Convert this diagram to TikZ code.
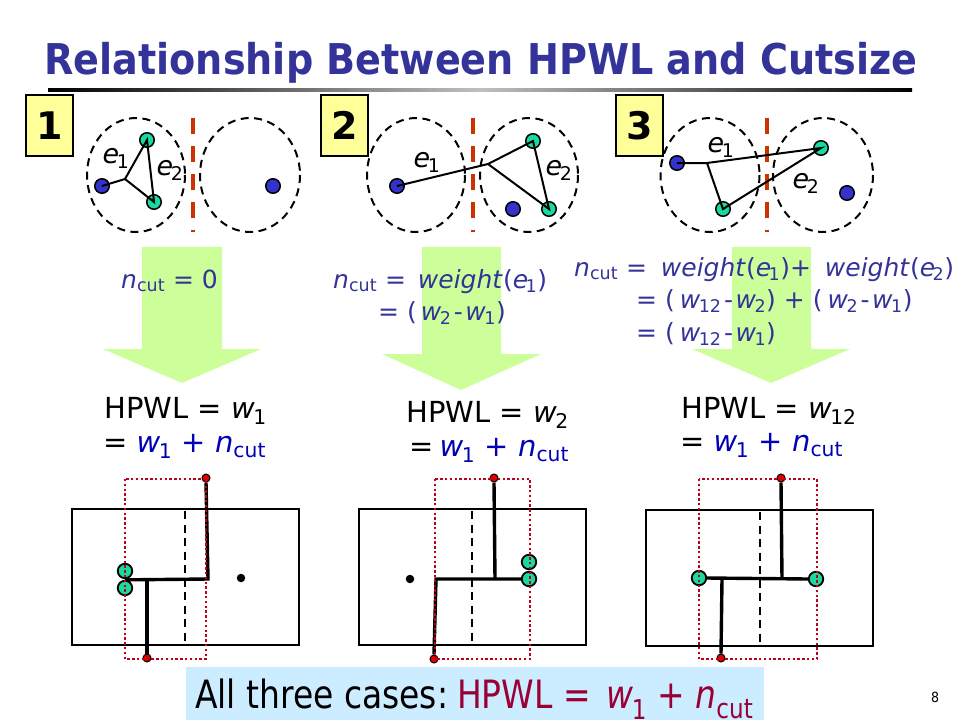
\documentclass[tikz,border=0pt]{standalone}
\usepackage{fontspec}
\setmainfont{DejaVu Sans}
\newfontfamily\narrowfont{DejaVu Sans}[FakeStretch=0.9]
\newfontfamily\bannerfont{DejaVu Sans}[FakeStretch=0.845]
\usetikzlibrary{positioning}
\definecolor{titleblue}{HTML}{333399}
\definecolor{formblue}{HTML}{0000B4}
\definecolor{cutred}{HTML}{CC3300}
\definecolor{boxred}{HTML}{C00018}
\definecolor{wine}{HTML}{990033}
\definecolor{arrowgreen}{HTML}{CCFF99}
\definecolor{tealdot}{HTML}{19D8A0}
\definecolor{bluedot}{HTML}{3333CC}
\definecolor{paleyellow}{HTML}{FFFF99}
\definecolor{paleblue}{HTML}{CCECFF}
\newcommand{\ncut}{\textit{n}\textsubscript{cut}}
\newcommand{\wsub}[1]{\textit{w}\kern-1.5pt\textsubscript{#1}}
\newcommand{\esub}[1]{\textit{e}\kern-2.5pt\textsubscript{#1}}
\newcommand{\hy}{\kern2.5pt-\kern2.5pt}
\tikzstyle{numbox} = [rectangle, draw, line width=1.2pt, fill=paleyellow, minimum width=47pt, minimum height=61pt, inner sep=0pt, font=\fontsize{38}{38}\selectfont\bfseries]
\tikzstyle{region} = [draw, line width=2pt, dash pattern=on 8pt off 5.5pt]
\tikzstyle{cutline} = [draw=cutred, line width=4.5pt, dash pattern=on 15.5pt off 12.5pt]
\tikzstyle{cutdash} = [draw, line width=2.2pt, dash pattern=on 8pt off 5.5pt]
\tikzstyle{pinblue} = [circle, draw, line width=1.5pt, fill=bluedot, minimum size=14.5pt, inner sep=0pt]
\tikzstyle{pingreen} = [circle, draw, line width=1.5pt, fill=tealdot, minimum size=14.5pt, inner sep=0pt]
\tikzstyle{cellgreen} = [circle, draw, line width=1.8pt, fill=tealdot, minimum size=14.5pt, inner sep=0pt]
\tikzstyle{ioblob} = [circle, draw, line width=1pt, fill=red!90!black, minimum size=8pt, inner sep=0pt]
\tikzstyle{cell} = [circle, fill=black, minimum size=8.5pt, inner sep=0pt]
\tikzstyle{edge} = [line width=2pt]
\tikzstyle{wire} = [line width=3.4pt]
\tikzstyle{chip} = [draw, line width=2.5pt]
\tikzstyle{bbox} = [draw=boxred, line width=2.4pt, dash pattern=on 2.4pt off 2.4pt]
\tikzstyle{bigarrow} = [fill=arrowgreen]
\tikzstyle{elabel} = [inner sep=0pt, anchor=base, font=\fontsize{27}{27}\selectfont]
\tikzstyle{ntext} = [inner sep=0pt, anchor=base west, text=titleblue, font=\fontsize{25}{25}\selectfont]
\tikzstyle{hpwltext} = [inner sep=0pt, anchor=base west, font=\fontsize{29}{29}\selectfont]
\begin{document}
\begin{tikzpicture}[x=1pt,y=-1pt]
    \useasboundingbox (0,0) rectangle (960,720);

    % Title
    \node (title) [inner sep=0pt, anchor=base, text=titleblue, font=\fontsize{42.4}{42.4}\selectfont\narrowfont\bfseries] at (481,74) {Relationship Between HPWL and Cutsize};
    \shade [left color=black, right color=black, middle color=black!25] (48,88) rectangle (912,91);

    % Green arrows
    \fill [bigarrow] (142,247) -- (222,247) -- (222,349) -- (261,349) -- (182,383) -- (103,349) -- (142,349) -- cycle;
    \fill [bigarrow] (422,247) -- (501,247) -- (501,354) -- (541,354) -- (461,390) -- (382,354) -- (422,354) -- cycle;
    \fill [bigarrow] (732,247) -- (811,247) -- (811,349) -- (850,349) -- (771,383) -- (692,349) -- (732,349) -- cycle;

    % Case 1 netlist
    \draw [region] (136,175) ellipse (49 and 57);
    \draw [region] (250,175) ellipse (50 and 57);
    \draw [cutline] (193,118) -- (193,232);
    \node (onebox) [numbox] at (49.5,125.5) {1};
    \node (oneb) [pinblue] at (102,186) {};
    \node (onet) [pingreen] at (147,140) {};
    \node (ones) [pingreen] at (154,202) {};
    \node (oner) [pinblue] at (273,186) {};
    \coordinate (onej) at (125,179);
    \draw [edge] (oneb.center) -- (onej) -- (onet.center) -- (ones.center) -- (onej);
    \node [elabel] at (116,163) {\esub{1}};
    \node [elabel] at (170,175) {\esub{2}};

    % Case 2 netlist
    \draw [region] (416,175) ellipse (49 and 57);
    \draw [region] (529,175) ellipse (49 and 57);
    \draw [cutline] (473,118) -- (473,232);
    \node (twobox) [numbox] at (344.5,125.5) {2};
    \node (twob) [pinblue] at (397,186) {};
    \node (twot) [pingreen] at (533,141) {};
    \node (twos) [pingreen] at (549,209) {};
    \node (twor) [pinblue] at (513,209) {};
    \coordinate (twoj) at (488,164);
    \draw [edge] (twob.center) -- (twoj) -- (twot.center) -- (twos.center) -- (twoj);
    \node [elabel] at (427,167) {\esub{1}};
    \node [elabel] at (559,175) {\esub{2}};

    % Case 3 netlist
    \draw [region] (710,175) ellipse (49.5 and 57);
    \draw [region] (823,175) ellipse (50 and 57);
    \draw [cutline] (767,118) -- (767,232);
    \node (threebox) [numbox] at (639.5,125.5) {3};
    \node (threeb) [pinblue] at (677,163) {};
    \node (threet) [pingreen] at (821,148) {};
    \node (threes) [pingreen] at (723,209) {};
    \node (threer) [pinblue] at (847,193) {};
    \coordinate (threej) at (707,163);
    \draw [edge] (threeb.center) -- (threej) -- (threet.center) -- (threes.center) -- (threej);
    \node [elabel] at (721,152) {\esub{1}};
    \node [elabel] at (806,188) {\esub{2}};

    % Cut size formulas
    \node [ntext] at (121,288) {\ncut{} = 0};
    \node [ntext] at (333,288) {\ncut{} =\kern4pt{} \textit{weight}(\esub{1})};
    \node [ntext] at (378,320) {= (\kern4pt\wsub{2}\hy\wsub{1})};
    \node [ntext] at (574,276) {\ncut{} =\kern6pt{} \textit{weight}(\esub{1})+\kern6pt{} \textit{weight}(\esub{2})};
    \node [ntext] at (636,308) {= (\kern5pt\wsub{12}\hy\wsub{2}) + (\kern5pt\wsub{2}\hy\wsub{1})};
    \node [ntext] at (636,341) {= (\kern5pt\wsub{12}\hy\wsub{1})};

    % HPWL formulas
    \node [hpwltext] at (104,418) {HPWL = \wsub{1}};
    \node [hpwltext] at (103,452) {= \textcolor{formblue}{\wsub{1} + \ncut}};
    \node [hpwltext] at (406,422) {HPWL = \wsub{2}};
    \node [hpwltext] at (409,456) {= \kern-3pt\textcolor{formblue}{\wsub{1} + \ncut}};
    \node [hpwltext] at (681,418) {HPWL = \wsub{12}};
    \node [hpwltext] at (680,451) {= \textcolor{formblue}{\wsub{1} + \ncut}};

    % Case 1 placement
    \draw [chip] (72,509) rectangle (299,645);
    \draw [cutdash] (185,511) -- (185,645);
    \node (onei) [ioblob] at (206,478) {};
    \node (oneo) [ioblob] at (147,658) {};
    \node (oneg) [cellgreen] at (125,571) {};
    \node (oneh) [cellgreen] at (125,588) {};
    \node (onec) [cell] at (241,578) {};
    \coordinate (onew) at (208,579);
    \coordinate (onev) at (147,579);
    \draw [wire] (oneh.north) -- (onew) -- (onei.south);
    \draw [wire] (onev) -- (oneo.north);
    \draw [bbox] (125,479) rectangle (206,659);

    % Case 2 placement
    \draw [chip] (359,509) rectangle (586,645);
    \draw [cutdash] (472,511) -- (472,645);
    \node (twoi) [ioblob] at (494,478) {};
    \node (twoo) [ioblob] at (434,659) {};
    \node (twog) [cellgreen] at (529,562) {};
    \node (twoh) [cellgreen] at (529,579) {};
    \node (twoc) [cell] at (410,579) {};
    \coordinate (twow) at (436,579);
    \coordinate (twov) at (495,579);
    \draw [wire] (twoh.west) -- (twow) -- (twoo.north);
    \draw [wire] (twov) -- (twoi.south);
    \draw [bbox] (435,479) rectangle (530,659);

    % Case 3 placement
    \draw [chip] (646,510) rectangle (873,646);
    \draw [cutdash] (760,512) -- (760,646);
    \node (threei) [ioblob] at (781,478) {};
    \node (threeo) [ioblob] at (721,658) {};
    \node (threeg) [cellgreen] at (699,578) {};
    \node (threeh) [cellgreen] at (816,579) {};
    \coordinate (threew) at (782,579);
    \coordinate (threev) at (722,579);
    \draw [wire] (threeg.east) -- (threeh.west);
    \draw [wire] (threew) -- (threei.south);
    \draw [wire] (threev) -- (threeo.north);
    \draw [bbox] (699,479) rectangle (817,659);

    % Bottom line
    \fill [paleblue] (186,667) rectangle (764,720);
    \node (summary) [inner sep=0pt, anchor=base west, font=\fontsize{39}{39}\selectfont\bannerfont] at (195,708) {All three cases:\kern-5pt{} \textcolor{wine}{HPWL =\kern5pt{} \wsub{1} + \ncut}};
    \node (pagenum) [inner sep=0pt, font=\fontsize{14}{14}\selectfont\narrowfont] at (935,697) {8};

\end{tikzpicture}
\end{document}
